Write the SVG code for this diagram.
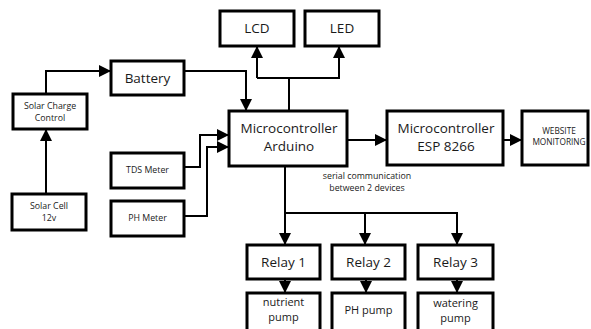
<svg xmlns="http://www.w3.org/2000/svg" width="591" height="329" viewBox="0 0 591 329">
<defs>
<style>
.box{fill:#fff;stroke:#000;stroke-width:3}
.ln{fill:none;stroke:#000;stroke-width:2}
text{font-family:"Open Sans","Noto Sans",sans-serif;fill:#1a1a1a;text-anchor:middle}
.big{font-size:13.5px}
.sm{font-size:8.8px}
.md{font-size:11px}
.xs{font-size:8.3px}
</style>
<marker id="ah" markerUnits="userSpaceOnUse" markerWidth="12" markerHeight="12" viewBox="0 0 12 12" refX="11" refY="6" orient="auto">
<path d="M0,0 L12,6 L0,12 z" fill="#000"/>
</marker>
</defs>
<rect width="591" height="329" fill="#fff"/>
<g id="connectors">
<path class="ln" d="M257,78 V47" marker-end="url(#ah)"/>
<path class="ln" d="M257,78 H339 V47" marker-end="url(#ah)"/>
<path class="ln" d="M289,78 V110"/>
<path class="ln" d="M184,71 H246 V110" marker-end="url(#ah)"/>
<path class="ln" d="M46,94 V71 H110" marker-end="url(#ah)"/>
<path class="ln" d="M46,194 V130" marker-end="url(#ah)"/>
<path class="ln" d="M184,167 H200 V135 H228" marker-end="url(#ah)"/>
<path class="ln" d="M184,216 H207 V147 H228" marker-end="url(#ah)"/>
<path class="ln" d="M347,140 H386" marker-end="url(#ah)"/>
<path class="ln" d="M503,140 H521" marker-end="url(#ah)"/>
<path class="ln" d="M285,166 V244" marker-end="url(#ah)"/>
<path class="ln" d="M285,213 H457 V244" marker-end="url(#ah)"/>
<path class="ln" d="M365,213 V244" marker-end="url(#ah)"/>
<path class="ln" d="M285,279 V292" marker-end="url(#ah)"/>
<path class="ln" d="M366,279 V292" marker-end="url(#ah)"/>
<path class="ln" d="M457,279 V292" marker-end="url(#ah)"/>
<text class="sm" x="367" y="179">serial communication</text>
<text class="sm" x="367" y="191">between 2 devices</text>
</g>
<g id="lcd"><rect class="box" x="220" y="11" width="74" height="35"/><text class="big" x="257" y="33">LCD</text></g>
<g id="led"><rect class="box" x="305" y="11" width="74" height="35"/><text class="big" x="342" y="33">LED</text></g>
<g id="battery"><rect class="box" x="111" y="61" width="73" height="34"/><text class="big" x="147.5" y="83">Battery</text></g>
<g id="scc"><rect class="box" x="13" y="94" width="74" height="35"/><text class="sm" x="50" y="109">Solar Charge</text><text class="sm" x="50" y="121">Control</text></g>
<g id="arduino"><rect class="box" x="229" y="111" width="118" height="55"/><text class="big" x="289" y="133">Microcontroller</text><text class="big" x="289" y="151">Arduino</text></g>
<g id="esp"><rect class="box" x="387" y="111" width="116" height="54"/><text class="big" x="446" y="133">Microcontroller</text><text class="big" x="446" y="151">ESP 8266</text></g>
<g id="web"><rect class="box" x="522" y="111" width="66" height="54"/><text class="xs" x="559" y="134">WEBSITE</text><text class="xs" x="559" y="145">MONITORING</text></g>
<g id="tds"><rect class="box" x="111" y="153" width="73" height="35"/><text class="sm" x="147.5" y="173">TDS Meter</text></g>
<g id="ph"><rect class="box" x="111" y="201" width="73" height="35"/><text class="sm" x="147.5" y="221">PH Meter</text></g>
<g id="solarcell"><rect class="box" x="12" y="194" width="74" height="36"/><text class="sm" x="49" y="209">Solar Cell</text><text class="sm" x="49" y="221">12v</text></g>
<g id="relay1"><rect class="box" x="247" y="245" width="73" height="34"/><text class="big" x="283.5" y="267">Relay 1</text></g>
<g id="relay2"><rect class="box" x="332" y="245" width="73" height="34"/><text class="big" x="368.5" y="267">Relay 2</text></g>
<g id="relay3"><rect class="box" x="418" y="245" width="75" height="34"/><text class="big" x="455.5" y="267">Relay 3</text></g>
<g id="pump1"><rect class="box" x="247" y="293" width="73" height="40"/><text class="md" x="283.5" y="306">nutrient</text><text class="md" x="283.5" y="321">pump</text></g>
<g id="pump2"><rect class="box" x="332" y="293" width="73" height="40"/><text class="md" x="368.5" y="314">PH pump</text></g>
<g id="pump3"><rect class="box" x="418" y="293" width="75" height="40"/><text class="md" x="455.5" y="307">watering</text><text class="md" x="455.5" y="322">pump</text></g>
</svg>
